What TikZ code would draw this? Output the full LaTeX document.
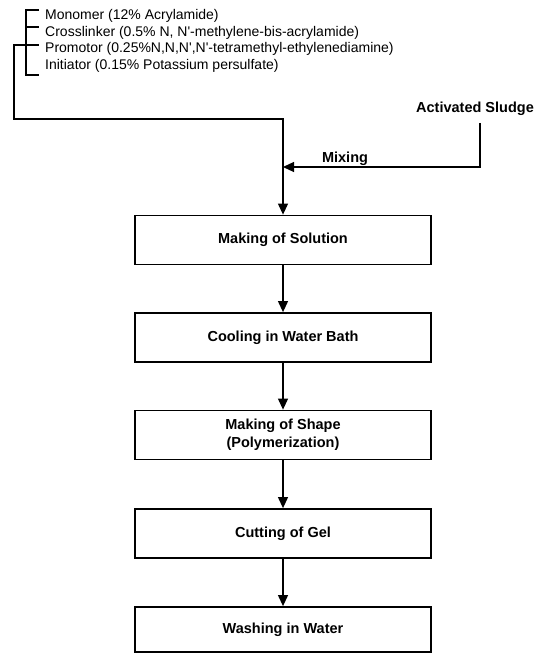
\documentclass[tikz,border=0pt]{standalone}
\usepackage{fontspec}
\newfontfamily\plainsans{Liberation Sans}
\usetikzlibrary{arrows.meta}
\begin{document}
\begin{tikzpicture}[x=1pt,y=-1pt,
  stepbox/.style={draw,line width=1.8pt,minimum width=296pt,minimum height=49pt,
    inner sep=0pt,font=\plainsans\fontsize{14.5}{18}\selectfont\bfseries,align=center},
  listtext/.style={anchor=base west,inner sep=0pt,font=\plainsans\fontsize{14}{16}\selectfont},
  boldlabel/.style={inner sep=0pt,font=\plainsans\fontsize{14.5}{17}\selectfont\bfseries},
  conn/.style={line width=1.1pt},
  flow/.style={line width=1.1pt,-{Triangle[length=11pt,width=10pt]}}]
\useasboundingbox (0,0) rectangle (539,655);
% ingredient list
\node[listtext] (mono) at (45,20) {Monomer (12\% Acrylamide)};
\node[listtext] (cross) at (45,36.5) {Crosslinker (0.5\% N, N'-methylene-bis-acrylamide)};
\node[listtext] (prom) at (45,53) {Promotor (0.25\%N,N,N',N'-tetramethyl-ethylenediamine)};
\node[listtext] (init) at (45,69.5) {Initiator (0.15\% Potassium persulfate)};
% bracket
\coordinate (bt) at (26,10);
\coordinate (bb) at (26,75);
\coordinate (bp) at (26,45);
\draw[conn] (39,10) -- (bt) -- (bb) -- (39,75);
\draw[conn] (bp |- 0,27) -- (39,27);
\draw[conn] (bp) -- (39,45);
% boxes
\node[stepbox] (b1) at (283,240) {Making of Solution};
\node[stepbox] (b2) at (283,337.5) {Cooling in Water Bath};
\node[stepbox] (b3) at (283,435) {Making of Shape\\(Polymerization)};
\node[stepbox] (b4) at (283,533.5) {Cutting of Gel};
\node[stepbox,minimum height=45pt] (b5) at (283,629.5) {Washing in Water};
% activated sludge
\node[boldlabel] (sludge) at (475,109) {Activated Sludge};
\coordinate (join) at (283,167);
\coordinate (sc) at (480,167);
\node[boldlabel,anchor=base] (mix) at (345,163) {Mixing};
% connectors
\draw[conn] (bp) -- (14,45) -- (14,119) -- (283,119) -- (join);
\draw[flow] (join) -- (b1.north);
\draw[flow] (sludge.south -| sc) ++(0,7) -- (sc) -- (join);
\draw[flow] (b1) -- (b2);
\draw[flow] (b2) -- (b3);
\draw[flow] (b3) -- (b4);
\draw[flow] (b4) -- (b5);
\end{tikzpicture}
\end{document}
